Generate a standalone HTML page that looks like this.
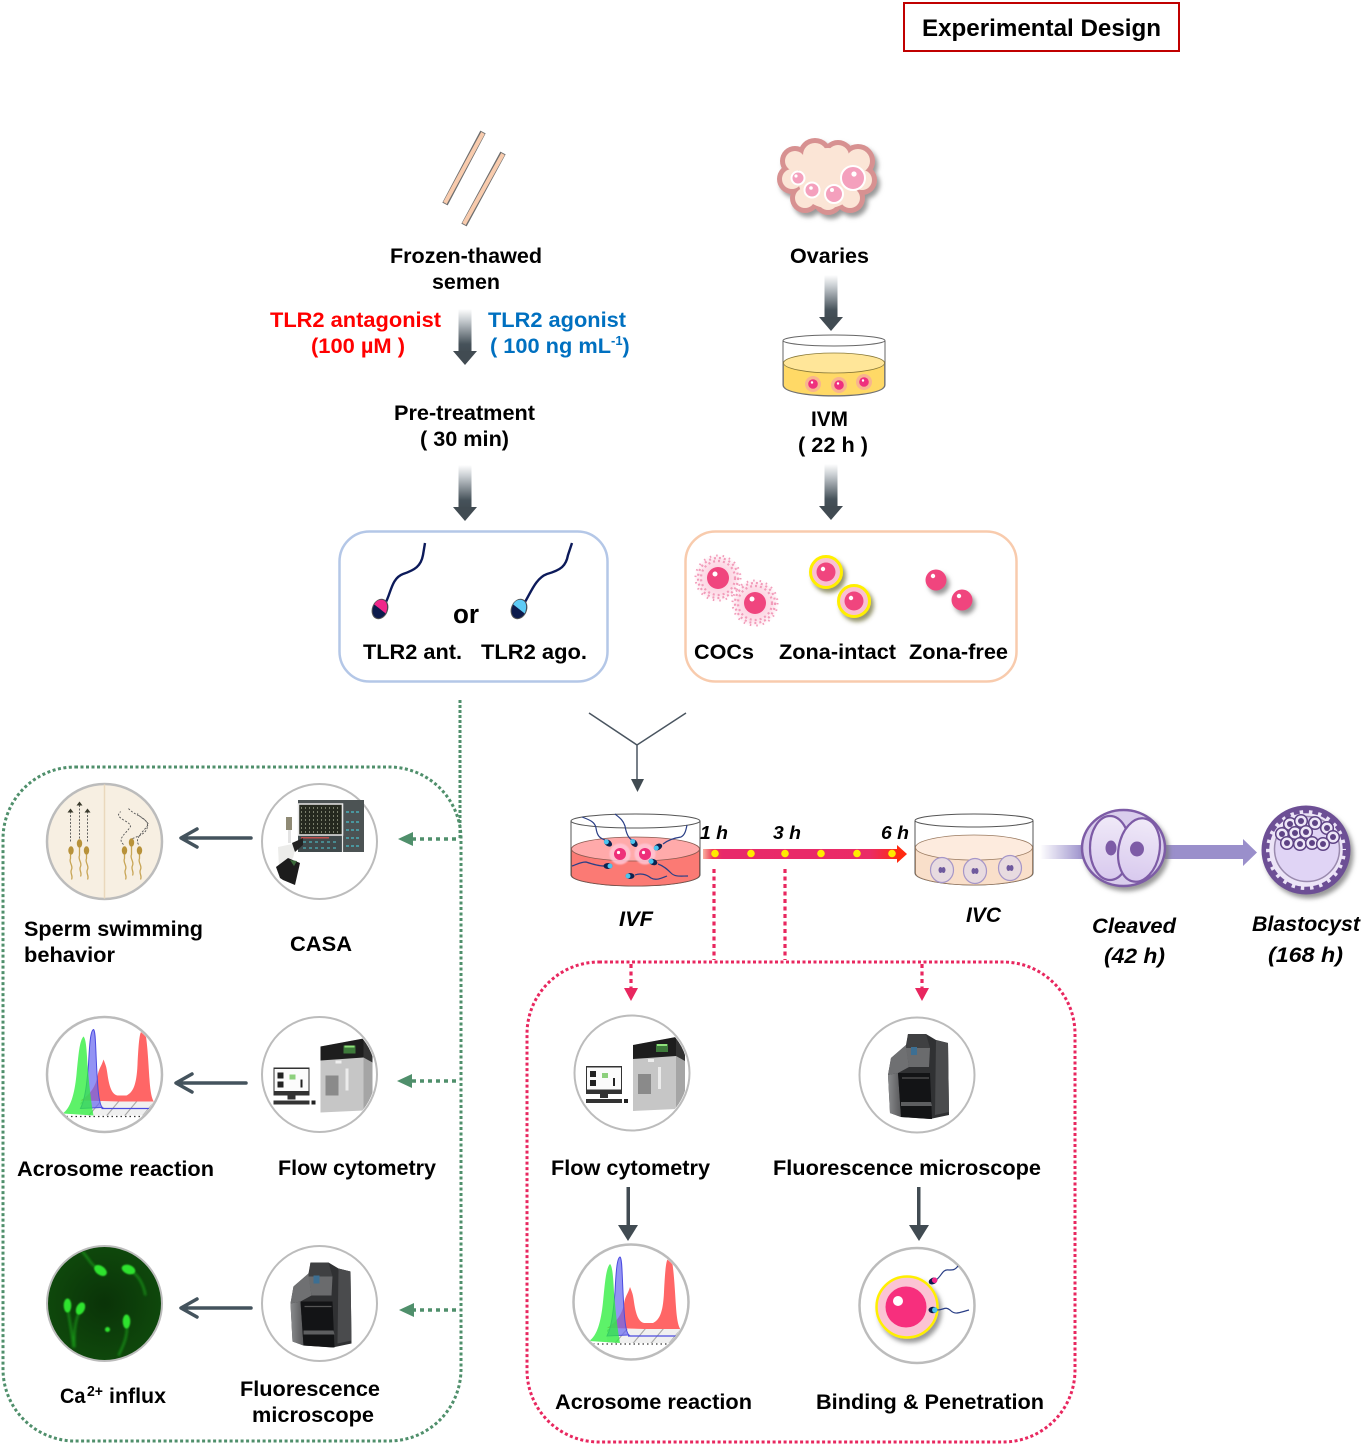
<!DOCTYPE html>
<html><head><meta charset="utf-8"><title>Experimental Design</title>
<style>
html,body{margin:0;padding:0;background:#fff}
svg{display:block}
text{font-family:"Liberation Sans",sans-serif;font-weight:bold;font-size:21.5px;fill:#000}
</style></head><body>
<svg width="1363" height="1445" viewBox="0 0 1363 1445" xmlns="http://www.w3.org/2000/svg">
<defs>
<linearGradient id="ga" x1="0" y1="0" x2="0" y2="1"><stop offset="0" stop-color="#fff"/><stop offset=".25" stop-color="#c9ced2"/><stop offset=".8" stop-color="#46525a"/><stop offset="1" stop-color="#414b52"/></linearGradient>
<linearGradient id="tl" x1="0" y1="0" x2="1" y2="0"><stop offset="0" stop-color="#f9b0a0"/><stop offset=".05" stop-color="#ee3b55"/><stop offset=".1" stop-color="#e8296a"/><stop offset=".85" stop-color="#ea2b66"/><stop offset="1" stop-color="#ff2a10"/></linearGradient>
<linearGradient id="pf" x1="0" y1="0" x2="1" y2="0"><stop offset="0" stop-color="#fff"/><stop offset="1" stop-color="#9a8fcb"/></linearGradient>
<linearGradient id="side" x1="0" y1="0" x2="1" y2="0"><stop offset="0" stop-color="#8a8b8d"/><stop offset="1" stop-color="#58595b"/></linearGradient>
<radialGradient id="pk" cx=".5" cy=".5" r=".5"><stop offset="0" stop-color="#fbc4d6"/><stop offset=".7" stop-color="#fde0ea"/><stop offset="1" stop-color="#fff"/></radialGradient>
<radialGradient id="ca" cx=".5" cy=".5" r=".55"><stop offset="0" stop-color="#0a3308"/><stop offset="1" stop-color="#0f4a0c"/></radialGradient>
<linearGradient id="cell" x1="0" y1="0" x2="0" y2="1"><stop offset="0" stop-color="#f0eaf8"/><stop offset="1" stop-color="#d8c9ee"/></linearGradient>
<pattern id="hatch" width="18" height="14" patternUnits="userSpaceOnUse" patternTransform="skewX(-40)"><rect width="18" height="14" fill="#f0f0f0"/><rect x="0" width="1.500" height="14" fill="#aaa"/></pattern>
<filter id="sh" x="-30%" y="-30%" width="170%" height="170%"><feDropShadow dx="3" dy="4" stdDeviation="2.500" flood-color="#777" flood-opacity=".75"/></filter>
<filter id="shy" x="-30%" y="-30%" width="170%" height="170%"><feDropShadow dx="3" dy="4" stdDeviation="2" flood-color="#6a6a30" flood-opacity=".7"/></filter>
<filter id="b1" x="-50%" y="-50%" width="200%" height="200%"><feGaussianBlur stdDeviation="1.300"/></filter>
<filter id="b2" x="-50%" y="-50%" width="200%" height="200%"><feGaussianBlur stdDeviation=".8"/></filter>
<filter id="b3" x="-50%" y="-50%" width="200%" height="200%"><feGaussianBlur stdDeviation="2"/></filter>
<clipPath id="cc"><circle r="56"/></clipPath>

<g id="arr"><rect x="-6.500" y="0" width="13" height="44" fill="url(#ga)"/><path d="M-12 42H12L0 56Z" fill="#414b52"/></g>

<g id="hist"><g clip-path="url(#cc)">
<path d="M-24 26C-14 20-9 12-7 2-6-6-3-8-1-15 1-10 2-8 3 0 5 14 8 20 13 21L22 21C28 18 32 12 33-10 34-30 35-42 37-43L41-41C43-30 44-10 45 5 46 20 48 26 50 28Z" fill="#ff5a5a" fill-opacity=".93"/>
<rect x="-24" y="27" width="74" height="14" fill="url(#hatch)"/>
<path d="M-24 34C-20 26-18 14-16-10-15-30-14-44-11-45-9-44-9-30-8-10-7 10-6 30-2 33Z" fill="#6a6af0" fill-opacity=".72" stroke="#4b4be0"/>
<path d="M-3 34H46" stroke="#4b4be0" stroke-width="1.200"/>
<path d="M-42 39C-34 34-30 20-28 0-26-20-25-34-21-38-19-36-18-30-17-10-15 15-13 30-11 41Z" fill="#2fee3f" fill-opacity=".78"/>
<path d="M-38 42H40" stroke="#333" stroke-width="1.300" stroke-dasharray="1.500 3"/>
</g><circle r="57.500" fill="none" stroke="#bcbcbc" stroke-width="2.500"/></g>

<g id="flow"><g clip-path="url(#cc)">
<path d="M1-28 44-36V36L1 38Z" fill="#c6c6c6"/>
<path d="M44-36 53-28V30L44 36Z" fill="#a5a5a5"/>
<path d="M1-28 44-36V-17L1-14Z" fill="#1d1d1d"/>
<path d="M44-36 53-28V-12L44-17Z" fill="#333"/>
<rect x="24" y="-29" width="12" height="8" fill="#3d7a3a"/><rect x="25" y="-29" width="10" height="2" fill="#8fe37b"/>
<rect x="6" y="1" width="13" height="20" fill="#8a8a8a"/>
<rect x="26" y="-6" width="3" height="22" fill="#ececec"/>
<rect x="16" y="-14" width="6" height="3" fill="#eee"/>
<rect x="-46" y="-7" width="36" height="28" fill="#333"/>
<rect x="-45" y="-5.500" width="34" height="22" fill="#fbfbfb"/>
<rect x="-42" y="-2" width="6" height="6" fill="#222"/><rect x="-42" y="7" width="6" height="6" fill="#222"/>
<rect x="-30" y="0" width="6" height="5" fill="#8dd07d"/><rect x="-19" y="5" width="2" height="8" fill="#222"/>
<rect x="-32" y="21" width="8" height="4" fill="#333"/>
<rect x="-46" y="26" width="36" height="4" fill="#333"/><rect x="-8" y="26" width="4" height="4" fill="#222"/>
</g><circle r="57.500" fill="none" stroke="#bcbcbc" stroke-width="2"/></g>

<g id="fm">
<path d="M-9-41H9L19-35 31-32 32 40 13 44-16 42-27 38-29 0-26-17-11-30Z" fill="#303133"/>
<path d="M-29 0-19-2-16 42-27 38Z" fill="url(#side)"/>
<path d="M-29 0-26-17-11-30-8-8-19-2Z" fill="#6f7072"/>
<path d="M19-35 31-32 32 37 18 40Z" fill="#4a4b4d"/>
<path d="M-9-41H9L13-27-11-27Z" fill="#3f4042"/>
<path d="M-11-27H13L12-8-8-8Z" fill="#6a6b6d"/>
<path d="M-19-2H13L15 44-16 42Z" fill="#131416"/>
<path d="M-16 27H14L15 31H-16Z" fill="#5d5e60"/>
<rect x="-6" y="-28" width="6" height="8" fill="#3c6f93"/>
<path d="M-15 3H12" stroke="#555" stroke-width="1.200"/>
<circle r="57.500" fill="none" stroke="#bcbcbc" stroke-width="2"/></g>

<g id="smallsperm"><ellipse rx="4.500" ry="3" fill="#0d2350"/><ellipse cx="2" rx="2.500" ry="2.500" fill="#4bc4ef"/></g>
</defs>

<rect width="1363" height="1445" fill="#fff"/>

<!-- title -->
<rect x="904" y="3" width="275" height="48" fill="#fff" stroke="#c00000" stroke-width="2"/>
<text x="922" y="36" style="font-size:24px" textLength="239" lengthAdjust="spacingAndGlyphs">Experimental Design</text>

<!-- straws -->
<g><path d="M483 132 445 204M503 153 464 225" stroke="#6e6e6e" stroke-width="6"/><path d="M483 133 445 203M503 154 464 224" stroke="#f8cbad" stroke-width="4"/></g>

<!-- ovary -->
<g filter="url(#sh)">
<g fill="#d79191"><circle cx="795" cy="161" r="15"/><circle cx="815" cy="155" r="17"/><circle cx="838" cy="156" r="16"/><circle cx="858" cy="161" r="17"/><circle cx="862" cy="180" r="15"/><circle cx="850" cy="198" r="15"/><circle cx="828" cy="200" r="15"/><circle cx="805" cy="198" r="15"/><circle cx="792" cy="179" r="15"/><circle cx="828" cy="178" r="28"/></g>
</g>
<g fill="#fbe5d6"><circle cx="795" cy="161" r="10"/><circle cx="815" cy="155" r="12"/><circle cx="838" cy="156" r="11"/><circle cx="858" cy="161" r="12"/><circle cx="862" cy="180" r="10"/><circle cx="850" cy="198" r="10"/><circle cx="828" cy="200" r="10"/><circle cx="805" cy="198" r="10"/><circle cx="792" cy="179" r="10"/><circle cx="828" cy="178" r="30"/></g>
<g fill="#f4a0bd" stroke="#fff" stroke-width="2"><circle cx="798" cy="178" r="6.500"/><circle cx="812" cy="190" r="7.500"/><circle cx="834" cy="194" r="9"/><circle cx="853" cy="178" r="12"/></g>
<g fill="#fff"><circle cx="796" cy="176" r="1.600"/><circle cx="811" cy="188" r="1.800"/><circle cx="832" cy="190" r="2"/><circle cx="854" cy="174" r="2.600"/></g>

<!-- top labels -->
<text x="390" y="263" textLength="152" lengthAdjust="spacingAndGlyphs">Frozen-thawed</text>
<text x="432" y="289" textLength="68" lengthAdjust="spacingAndGlyphs">semen</text>
<text x="790" y="263" textLength="79" lengthAdjust="spacingAndGlyphs">Ovaries</text>
<text x="270" y="327" style="fill:#ff0000" textLength="171" lengthAdjust="spacingAndGlyphs">TLR2 antagonist</text>
<text x="311" y="353" style="fill:#ff0000" textLength="94" lengthAdjust="spacingAndGlyphs">(100 µM )</text>
<text x="488" y="327" style="fill:#0070c0" textLength="138" lengthAdjust="spacingAndGlyphs">TLR2 agonist</text>
<text x="490" y="353" style="fill:#0070c0" textLength="121" lengthAdjust="spacingAndGlyphs">( 100 ng mL</text>
<text x="611" y="345" style="fill:#0070c0;font-size:13px">-1</text>
<text x="622.500" y="353" style="fill:#0070c0">)</text>
<text x="394" y="420" textLength="141" lengthAdjust="spacingAndGlyphs">Pre-treatment</text>
<text x="420" y="446" textLength="89" lengthAdjust="spacingAndGlyphs">( 30 min)</text>
<text x="811" y="426" textLength="37" lengthAdjust="spacingAndGlyphs">IVM</text>
<text x="798" y="452" textLength="70" lengthAdjust="spacingAndGlyphs">( 22 h )</text>

<use href="#arr" x="465" y="309"/>
<use href="#arr" x="831" y="275"/>
<use href="#arr" x="465" y="465"/>
<use href="#arr" x="831" y="464"/>

<!-- IVM dish -->
<path d="M783 341V385C783 392 806 396 834 396S885 392 885 385V341" fill="#fff" stroke="#666" stroke-width="1"/>
<path d="M783.500 363V385C783.500 392 806 395.500 834 395.500S884.500 392 884.500 385V363Z" fill="#ffd966" stroke="#777" stroke-width=".8"/>
<ellipse cx="834" cy="363" rx="50.500" ry="10" fill="#ffe699" stroke="#8a7a3a" stroke-width=".8"/>
<ellipse cx="834" cy="340.500" rx="51" ry="5.500" fill="#fff" stroke="#666" stroke-width="1"/>
<g fill="#f8b48f"><circle cx="813" cy="384" r="8"/><circle cx="839" cy="385" r="8"/><circle cx="864" cy="382" r="8"/></g>
<g fill="#ef2f7e"><circle cx="813" cy="384" r="4.800"/><circle cx="839" cy="385" r="4.800"/><circle cx="864" cy="382" r="4.800"/></g>
<g fill="#fff"><circle cx="812" cy="382.500" r="1.200"/><circle cx="838" cy="383.500" r="1.200"/><circle cx="863" cy="380.500" r="1.200"/></g>

<!-- boxes -->
<rect x="339.500" y="531.500" width="268" height="150" rx="30" fill="#fff" stroke="#b4c7e7" stroke-width="2.500"/>
<rect x="685.500" y="531.500" width="331" height="150" rx="30" fill="#fff" stroke="#f8cbad" stroke-width="2.500"/>

<!-- sperm in blue box -->
<path d="M386 602C391 592 392 578 403 574 415 570 421 566 423 555L425 543" fill="none" stroke="#0c1a5a" stroke-width="2.400"/>
<g transform="translate(380 609) rotate(22)"><ellipse rx="7.500" ry="10" fill="#0d1b4c" stroke="#555" stroke-width="1"/><path d="M-7-2 7 2C7-5 4-9.500 0-9.500-4-9.500-7-6-7-2Z" fill="#f0278a"/></g>
<path d="M525 602C531 592 536 578 547 574 561 570 566 566 568 555L572 543" fill="none" stroke="#0c1a5a" stroke-width="2.400"/>
<g transform="translate(519 609) rotate(22)"><ellipse rx="7.500" ry="10" fill="#0d1b4c" stroke="#555" stroke-width="1"/><path d="M-7-2 7 2C7-5 4-9.500 0-9.500-4-9.500-7-6-7-2Z" fill="#5ecbf5"/></g>

<text x="453" y="623" style="font-size:27px" textLength="26" lengthAdjust="spacingAndGlyphs">or</text>
<text x="363" y="659" textLength="99" lengthAdjust="spacingAndGlyphs">TLR2 ant.</text>
<text x="481" y="659" textLength="106" lengthAdjust="spacingAndGlyphs">TLR2 ago.</text>
<text x="694" y="659" textLength="60" lengthAdjust="spacingAndGlyphs">COCs</text>
<text x="779" y="659" textLength="117" lengthAdjust="spacingAndGlyphs">Zona-intact</text>
<text x="909" y="659" textLength="99" lengthAdjust="spacingAndGlyphs">Zona-free</text>

<!-- COCs -->
<g fill="none" stroke="#f29cba">
<circle cx="718" cy="578" r="24" fill="url(#pk)" stroke="none"/><circle cx="755" cy="603" r="24" fill="url(#pk)" stroke="none"/>
<circle cx="718" cy="578" r="17" stroke-width="2.200" stroke-dasharray="2 3"/><circle cx="718" cy="578" r="20" stroke-width="2.200" stroke-dasharray="2 3"/><circle cx="718" cy="578" r="22.500" stroke-width="2" stroke-dasharray="1.500 5"/>
<circle cx="755" cy="603" r="17" stroke-width="2.200" stroke-dasharray="2 3"/><circle cx="755" cy="603" r="20" stroke-width="2.200" stroke-dasharray="2 3"/><circle cx="755" cy="603" r="22.500" stroke-width="2" stroke-dasharray="1.500 5"/>
</g>
<circle cx="718" cy="578" r="11" fill="#f0457e"/><circle cx="755" cy="603" r="11" fill="#f0457e"/>
<circle cx="715" cy="574" r="2.500" fill="#fff"/><circle cx="752" cy="599" r="2.500" fill="#fff"/>
<!-- zona intact -->
<g filter="url(#shy)"><circle cx="826" cy="572" r="15.500" fill="#f9c0d3" stroke="#ffef00" stroke-width="3"/></g>
<g filter="url(#shy)"><circle cx="854" cy="601" r="15.500" fill="#f9c0d3" stroke="#ffef00" stroke-width="3"/></g>
<circle cx="826" cy="572" r="9.500" fill="#f0457e"/><circle cx="854" cy="601" r="9.500" fill="#f0457e"/>
<circle cx="823" cy="569" r="2.200" fill="#fff"/><circle cx="851" cy="598" r="2.200" fill="#fff"/>
<!-- zona free -->
<g filter="url(#sh)"><circle cx="936" cy="580" r="10.500" fill="#f0457e"/><circle cx="962" cy="600" r="10.500" fill="#f0457e"/></g>
<circle cx="933" cy="576" r="2.200" fill="#fff"/><circle cx="959" cy="596" r="2.200" fill="#fff"/>

<!-- Y connector -->
<path d="M589 713 637 745 686 713M637 745V780" fill="none" stroke="#4a5560" stroke-width="1.500"/>
<path d="M631 779H644L637.500 792Z" fill="#414b52"/>

<!-- green dotted -->
<rect x="3" y="767" width="458" height="674" rx="72" fill="none" stroke="#4f8f6b" stroke-width="3" stroke-dasharray="3 2.500"/>
<path d="M460 700V840" stroke="#4f8f6b" stroke-width="3" stroke-dasharray="3 2"/>
<g stroke="#4f8f6b" stroke-width="3.500" stroke-dasharray="4 4" fill="none"><path d="M412 839H460M412 1081H460M412 1310H460"/></g>
<g fill="#4f8f6b"><path d="M398 839 413 832V846Z"/><path d="M397 1081 412 1074V1088Z"/><path d="M399 1310 414 1303V1317Z"/></g>

<!-- grey arrows -->
<g fill="none" stroke="#44535d" stroke-width="3.500" stroke-linecap="round" stroke-linejoin="round">
<path d="M251 838H182M197 829 181 838 197 847"/>
<path d="M246 1083H177M192 1074 176 1083 192 1092"/>
<path d="M251 1308H182M197 1299 181 1308 197 1317"/>
</g>
<g fill="#414b52"><rect x="626.500" y="1187" width="3.500" height="44"/><path d="M618 1225H638L628 1241Z"/><rect x="917" y="1187" width="3.500" height="44"/><path d="M909 1225H929L919 1241Z"/></g>

<!-- Sperm swimming circle -->
<g transform="translate(104.500 841.500)">
<circle r="57.500" fill="#f7efe2" stroke="#bcbcbc" stroke-width="2.500"/>
<path d="M0-57V57" stroke="#ead8bd" stroke-width="1.500"/>
<g stroke="#555" stroke-width=".9" stroke-dasharray="2 1.500" fill="none">
<path d="M-34 0V-29M-25-3V-36M-17 0V-29"/>
<path d="M19 3C12-3 22-8 26-15 26-20 14-22 14-27L16-30M28-3C36-6 43-9 43-16 43-24 30-26 24-33M34 3C30-3 38-9 44-17 42-22 35-24 33-28"/>
</g>
<g fill="#3a3a2c"><path d="M-34-33-37-29H-31ZM-25-40-28-36H-22ZM-17-33-20-29H-14Z"/></g>
<g fill="#b8923a"><ellipse cx="-33.500" cy="9" rx="2.700" ry="4.200"/><ellipse cx="-25" cy="2" rx="2.700" ry="4.200"/><ellipse cx="-18" cy="9" rx="2.700" ry="4.200"/><ellipse cx="20" cy="9" rx="2.700" ry="4.200"/><ellipse cx="27" cy="1" rx="2.700" ry="4.200"/><ellipse cx="35" cy="9" rx="2.700" ry="4.200"/></g>
<g fill="none" stroke="#c8a555" stroke-width="1.300"><path d="M-34 13V17C-36 21-31 24-33 28-35 32-31 34-33 38M-25 6V14C-27 18-22 21-24 25-26 29-22 31-24 35M-18 13V17C-20 21-15 24-17 28-19 32-15 34-17 38M20 13V17C18 21 23 24 21 28 19 32 23 34 21 38M27 5V13C25 17 30 20 28 24 26 28 30 30 28 34M35 13V17C33 21 38 24 36 28 34 32 38 34 36 38"/></g>
</g>

<!-- CASA -->
<circle cx="319.500" cy="841.500" r="57.500" fill="#fff" stroke="#bcbcbc" stroke-width="2"/>
<rect x="298" y="800" width="66" height="52" fill="#4c5354"/>
<rect x="298.500" y="804" width="44" height="31" fill="#25291f" stroke="#e6e6e6" stroke-width="1.500"/>
<rect x="298.500" y="836" width="44" height="16" fill="#40494b"/>
<path d="M342.500 804V852" stroke="#e6e6e6" stroke-width="1.200"/>
<path d="M301 808H340M301 812H340M301 816H340M301 820H340M301 824H340M301 828H340M301 832H340" stroke="#aeb39a" stroke-width="1.300" stroke-dasharray="1 3"/>
<path d="M346 812H360M346 822H360M346 830H360M346 838H360M346 846H360" stroke="#4aa0a8" stroke-width="1.800" stroke-dasharray="3 2"/>
<path d="M303 842H336M303 848H336" stroke="#4aa0a8" stroke-width="1.500" stroke-dasharray="3 3"/>
<rect x="301" y="837" width="28" height="1.500" fill="#c0504d"/>
<rect x="286" y="817" width="6" height="13" fill="#8f8a75"/>
<rect x="288" y="830" width="3" height="13" fill="#e3e3e3"/>
<path d="M278 847 297 843 293 858 283 867 279 868Z" fill="#ececea"/>
<path d="M292 843 303 838 303 845 295 852Z" fill="#222"/>
<path d="M276 867 288 858 300 863 295 885 283 880 280 878Z" fill="#1c1c1c"/>
<path d="M290 860 297 861 294 866Z" fill="#3b6a3a"/>

<!-- row2 left -->
<use href="#hist" x="104.500" y="1074.500"/>
<use href="#flow" x="319.500" y="1074.500"/>

<!-- row3 left -->
<g transform="translate(104.500 1303.500)">
<circle r="57.500" fill="url(#ca)" stroke="#bcbcbc" stroke-width="2"/>
<g clip-path="url(#cc)">
<g fill="none" stroke="#1fae1f" stroke-width="2" filter="url(#b1)" opacity=".75"><path d="M-4-33C-14-38-16-46-24-54M24-34C33-30 39-20 41-8M-37 2C-36 14-33 24-31 44M-24 5C-28 14-31 24-30 44M22 18C24 30 20 40 14 52"/></g>
<g fill="#2de32d" filter="url(#b2)"><ellipse cx="-4" cy="-33" rx="7" ry="4.500" transform="rotate(35 -4 -33)"/><ellipse cx="24" cy="-34" rx="7" ry="4.500" transform="rotate(20 24 -34)"/><ellipse cx="-37" cy="2" rx="3.800" ry="7"/><ellipse cx="-24" cy="5" rx="4.200" ry="6.500" transform="rotate(25 -24 5)"/><ellipse cx="22" cy="18" rx="3.800" ry="7"/><circle cx="3" cy="26" r="2.500"/></g>
</g></g>
<use href="#fm" x="319.500" y="1303.500"/>

<!-- left labels -->
<text x="24" y="936" textLength="179" lengthAdjust="spacingAndGlyphs">Sperm swimming</text>
<text x="24" y="962" textLength="91" lengthAdjust="spacingAndGlyphs">behavior</text>
<text x="290" y="951" textLength="62" lengthAdjust="spacingAndGlyphs">CASA</text>
<text x="17" y="1176" textLength="197" lengthAdjust="spacingAndGlyphs">Acrosome reaction</text>
<text x="278" y="1175" textLength="158" lengthAdjust="spacingAndGlyphs">Flow cytometry</text>
<text x="60" y="1403" textLength="25.500" lengthAdjust="spacingAndGlyphs">Ca</text>
<text x="87" y="1396" style="font-size:14.500px" textLength="16" lengthAdjust="spacingAndGlyphs">2+</text>
<text x="109" y="1403" textLength="57" lengthAdjust="spacingAndGlyphs">influx</text>
<text x="240" y="1396" textLength="140" lengthAdjust="spacingAndGlyphs">Fluorescence</text>
<text x="252" y="1422" textLength="122" lengthAdjust="spacingAndGlyphs">microscope</text>

<!-- IVF dish -->
<path d="M571 821V875C571 881 600 886 635.500 886S700 881 700 875V821" fill="#fff" stroke="#555" stroke-width="1"/>
<path d="M571.500 849V875C571.500 881 600 886 635.500 886S699.500 881 699.500 875V849Z" fill="#fb7a74" stroke="#7d5048" stroke-width=".8"/>
<ellipse cx="635.500" cy="849" rx="64" ry="12" fill="#ffaaaa" stroke="#8a5a50" stroke-width=".8"/>
<ellipse cx="635.500" cy="821" rx="64.500" ry="7" fill="none" stroke="#555" stroke-width="1"/>
<circle cx="620" cy="854" r="10.500" fill="#ffc6d6" opacity=".85" filter="url(#b2)"/><circle cx="645" cy="854" r="10.500" fill="#ffc6d6" opacity=".85" filter="url(#b2)"/>
<circle cx="620" cy="854" r="6" fill="#ee2f7a"/><circle cx="645" cy="854" r="6" fill="#ee2f7a"/>
<circle cx="618.500" cy="852.500" r="1.600" fill="#fff"/><circle cx="643.500" cy="852.500" r="1.600" fill="#fff"/>
<g fill="none" stroke="#2a3f86" stroke-width="1.200">
<path d="M605 840C599 838 597 835 596 828 595 822 590 820 582 817"/>
<path d="M632 840C628 838 626 832 625 826 623 820 620 818 615 814"/>
<path d="M663 844C668 840 674 838 681 837 685 835 686 830 687 825"/>
<path d="M658 864C664 866 668 870 671 873 675 877 680 876 688 876"/>
<path d="M604 866C598 866 592 864 586 862 580 862 576 865 572 866"/>
<path d="M635 875C640 873 646 874 651 878 656 881 662 878 667 876"/>
</g>
<use href="#smallsperm" transform="translate(608 843) rotate(215)"/><use href="#smallsperm" transform="translate(634 843) rotate(230)"/><use href="#smallsperm" transform="translate(658 847) rotate(150)"/><use href="#smallsperm" transform="translate(653 862) rotate(200)"/><use href="#smallsperm" transform="translate(608 866)"/><use href="#smallsperm" transform="translate(630 876) rotate(180)"/>

<!-- timeline -->
<rect x="703" y="849" width="196" height="10" fill="url(#tl)"/>
<path d="M897 845 907 854 897 863Z" fill="#ff2a10"/>
<g fill="#ffec00"><circle cx="715" cy="853.500" r="3.800"/><circle cx="751" cy="853.500" r="3.800"/><circle cx="785" cy="853.500" r="3.800"/><circle cx="821" cy="853.500" r="3.800"/><circle cx="857" cy="853.500" r="3.800"/><circle cx="892" cy="853.500" r="3.800"/></g>
<text x="700" y="839" style="font-size:18px;font-style:italic" textLength="28" lengthAdjust="spacingAndGlyphs">1 h</text>
<text x="773" y="839" style="font-size:18px;font-style:italic" textLength="28" lengthAdjust="spacingAndGlyphs">3 h</text>
<text x="881" y="839" style="font-size:18px;font-style:italic" textLength="28" lengthAdjust="spacingAndGlyphs">6 h</text>

<!-- IVC dish -->
<path d="M915 821V873C915 880 945 885 974 885S1033 880 1033 873V821" fill="#fff" stroke="#555" stroke-width="1"/>
<path d="M915.500 847V873C915.500 880 945 885 974 885S1032.500 880 1032.500 873V847Z" fill="#f9dfca" stroke="#9a7a60" stroke-width=".8"/>
<ellipse cx="974" cy="847.500" rx="58.500" ry="12.500" fill="#fdebde" stroke="#9a7a60" stroke-width=".8"/>
<ellipse cx="974" cy="820.500" rx="59" ry="6.500" fill="none" stroke="#555" stroke-width="1"/>
<g fill="#e8dbe0" stroke="#a696c8" stroke-width="1.200"><ellipse cx="942" cy="870" rx="11.500" ry="12.500"/><ellipse cx="975" cy="871" rx="11.500" ry="12.500"/><ellipse cx="1010" cy="868" rx="11.500" ry="12.500"/></g>
<g fill="#6f5a9e"><ellipse cx="940.500" cy="870" rx="2" ry="3"/><ellipse cx="943.500" cy="870" rx="2" ry="3"/><ellipse cx="973.500" cy="871" rx="2" ry="3"/><ellipse cx="976.500" cy="871" rx="2" ry="3"/><ellipse cx="1008.500" cy="868" rx="2" ry="3"/><ellipse cx="1011.500" cy="868" rx="2" ry="3"/></g>

<!-- purple arrows -->
<rect x="1040" y="845" width="44" height="14" fill="url(#pf)"/>
<rect x="1165" y="845" width="79" height="14" fill="#9a8fcb"/>
<path d="M1243 839 1257 852.500 1243 866Z" fill="#9a8fcb"/>

<!-- cleaved -->
<g filter="url(#sh)"><ellipse cx="1123.500" cy="848" rx="41.500" ry="38" fill="#d9cdec" stroke="#7d5ba6" stroke-width="2.500"/></g>
<ellipse cx="1110" cy="848" rx="20" ry="32" fill="url(#cell)" stroke="#7d5ba6" stroke-width="2.200"/>
<ellipse cx="1139" cy="850" rx="20.500" ry="32" transform="rotate(10 1139 850)" fill="url(#cell)" stroke="#7d5ba6" stroke-width="2.200"/>
<ellipse cx="1111" cy="848" rx="5.500" ry="7.500" fill="#7d5ba6"/>
<ellipse cx="1137" cy="849" rx="7" ry="7.500" fill="#7d5ba6"/>

<!-- blastocyst -->
<g filter="url(#sh)"><circle cx="1306" cy="850" r="44.500" fill="#6d4f95"/></g>
<circle cx="1306" cy="850" r="40" fill="#ece4f7"/>
<circle cx="1306" cy="850" r="39" fill="none" stroke="#6d4f95" stroke-width="4.500" stroke-dasharray="6 3.500"/>
<circle cx="1307" cy="849" r="32.500" fill="#e0d4f5" stroke="#9a8aae" stroke-width="1.500"/>
<g fill="#ede6f7" stroke="#5e4385" stroke-width="1.500"><circle cx="1290" cy="824" r="6.300"/><circle cx="1301" cy="821" r="6.300"/><circle cx="1315" cy="823" r="6.300"/><circle cx="1327" cy="828" r="6.300"/><circle cx="1333" cy="837" r="6.300"/><circle cx="1282" cy="834" r="6.300"/><circle cx="1295" cy="833" r="6.300"/><circle cx="1306" cy="832" r="6.300"/><circle cx="1287" cy="843" r="6.300"/><circle cx="1300" cy="844" r="6.300"/><circle cx="1312" cy="843" r="6.300"/><circle cx="1323" cy="844" r="6.300"/></g>
<g fill="#5e4385"><circle cx="1290" cy="824" r="3"/><circle cx="1301" cy="821" r="3"/><circle cx="1315" cy="823" r="3"/><circle cx="1327" cy="828" r="3"/><circle cx="1333" cy="837" r="3"/><circle cx="1282" cy="834" r="3"/><circle cx="1295" cy="833" r="3"/><circle cx="1306" cy="832" r="3"/><circle cx="1287" cy="843" r="3"/><circle cx="1300" cy="844" r="3"/><circle cx="1312" cy="843" r="3"/><circle cx="1323" cy="844" r="3"/></g>

<!-- italic labels -->
<text x="619" y="926" style="font-style:italic" textLength="34" lengthAdjust="spacingAndGlyphs">IVF</text>
<text x="966" y="922" style="font-style:italic" textLength="35" lengthAdjust="spacingAndGlyphs">IVC</text>
<text x="1092" y="933" style="font-style:italic" textLength="84" lengthAdjust="spacingAndGlyphs">Cleaved</text>
<text x="1104" y="963" style="font-style:italic" textLength="61" lengthAdjust="spacingAndGlyphs">(42 h)</text>
<text x="1252" y="931" style="font-style:italic" textLength="108" lengthAdjust="spacingAndGlyphs">Blastocyst</text>
<text x="1268" y="962" style="font-style:italic" textLength="75" lengthAdjust="spacingAndGlyphs">(168 h)</text>

<!-- pink dotted -->
<rect x="527" y="962" width="548" height="480" rx="72" fill="none" stroke="#e8275f" stroke-width="3" stroke-dasharray="3 2.500"/>
<g stroke="#e8275f" stroke-width="3.200" stroke-dasharray="4 3.500" fill="none"><path d="M714 869V960M785 869V960M631 964V990M922 964V990"/></g>
<g fill="#e8275f"><path d="M624 988H638L631 1001Z"/><path d="M915 988H929L922 1001Z"/></g>

<!-- pink box contents -->
<use href="#flow" x="632" y="1073"/>
<use href="#fm" x="917" y="1075"/>
<use href="#hist" x="631" y="1302"/>
<circle cx="917" cy="1305.500" r="57.500" fill="#fff" stroke="#bcbcbc" stroke-width="2.500"/>
<g filter="url(#sh)"><circle cx="907" cy="1307" r="30.500" fill="#fbc4d4" stroke="#ffef00" stroke-width="2.500"/></g>
<circle cx="906" cy="1307" r="20.500" fill="#f72f7d"/>
<circle cx="898" cy="1301" r="5" fill="#fff"/>
<g fill="none" stroke="#2a3f86" stroke-width="1.200"><path d="M936 1280C942 1276 942 1269 949 1270 953 1270 955 1270 958 1266"/><path d="M937 1310C944 1310 945 1306 950 1310 955 1315 958 1313 969 1310"/></g>
<g transform="translate(933 1281) rotate(-25)"><ellipse rx="4.500" ry="3.200" fill="#0d1b4c"/><ellipse cx="1.800" rx="2.700" ry="2.800" fill="#f0278a"/></g>
<g transform="translate(933 1310)"><ellipse rx="4.500" ry="3.200" fill="#0d1b4c"/><ellipse cx="1.800" rx="2.700" ry="2.800" fill="#4bc4ef"/></g>

<text x="551" y="1175" textLength="159" lengthAdjust="spacingAndGlyphs">Flow cytometry</text>
<text x="773" y="1175" textLength="268" lengthAdjust="spacingAndGlyphs">Fluorescence microscope</text>
<text x="555" y="1409" textLength="197" lengthAdjust="spacingAndGlyphs">Acrosome reaction</text>
<text x="816" y="1409" textLength="228" lengthAdjust="spacingAndGlyphs">Binding &amp; Penetration</text>
</svg>
</body></html>
